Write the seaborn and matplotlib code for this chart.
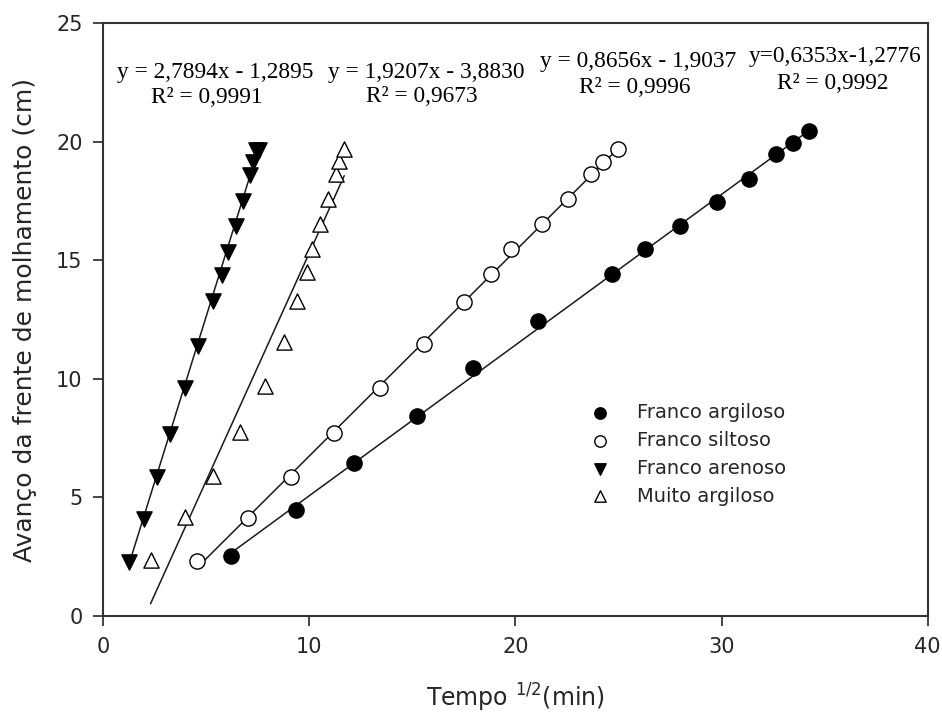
import numpy as np
import pandas as pd
import matplotlib
matplotlib.use("Agg")
import matplotlib.pyplot as plt
import seaborn as sns

# Data: sqrt(time) vs wetting front advance
fa_x = [6.18, 9.34, 12.15, 15.23, 17.94, 21.1, 24.67, 26.29, 27.99, 29.78, 31.35, 32.65, 33.48, 34.24]
fa_y = [2.52, 4.46, 6.46, 8.45, 10.45, 12.46, 14.43, 15.49, 16.47, 17.46, 18.44, 19.47, 19.96, 20.45]

fs_x = [4.53, 7.04, 9.13, 11.21, 13.45, 15.54, 17.5, 18.83, 19.8, 21.3, 22.56, 23.67, 24.27, 24.99]
fs_y = [2.33, 4.12, 5.88, 7.72, 9.61, 11.48, 13.26, 14.43, 15.49, 16.54, 17.57, 18.65, 19.14, 19.68]

far_x = [1.23, 1.96, 2.58, 3.23, 3.94, 4.59, 5.34, 5.74, 6.05, 6.42, 6.8, 7.12, 7.28, 7.4, 7.55]
far_y = [2.26, 4.09, 5.85, 7.68, 9.61, 11.4, 13.3, 14.4, 15.35, 16.47, 17.52, 18.6, 19.14, 19.65, 19.65]

ma_x = [2.29, 3.94, 5.34, 6.63, 7.83, 8.77, 9.42, 9.88, 10.15, 10.53, 10.88, 11.29, 11.45, 11.69]
ma_y = [2.38, 4.16, 5.92, 7.78, 9.69, 11.55, 13.3, 14.5, 15.49, 16.54, 17.6, 18.65, 19.21, 19.7]

names = ["Franco argiloso", "Franco siltoso", "Franco arenoso", "Muito argiloso"]
slopes = [0.6353, 0.8656, 2.7894, 1.9207]
intercepts = [-1.2776, -1.9037, -1.2895, -3.8830]
eq_text = ["y=0,6353x-1,2776", "y = 0,8656x - 1,9037", "y = 2,7894x - 1,2895", "y = 1,9207x - 3,8830"]
r2_text = ["R² = 0,9992", "R² = 0,9996", "R² = 0,9991", "R² = 0,9673"]

xs = [fa_x, fs_x, far_x, ma_x]
ys = [fa_y, fs_y, far_y, ma_y]

# styling per series
markers = ["o", "o", "v", "^"]
faces = ["black", "white", "black", "white"]
# label placement (data coords): equation line and R² line
eq_pos = [(35.5, 23.6), (25.95, 23.4), (5.43, 22.93), (15.66, 22.93)]
r2_pos = [(35.4, 22.45), (25.8, 22.28), (5.02, 21.87), (15.47, 21.9)]

sns.set_style("ticks")
plt.rcParams["font.family"] = ["DejaVu Sans"]

fig = plt.figure(figsize=(9.42, 7.17), dpi=100)
ax = fig.add_axes([0.1097, 0.1409, 0.8750, 0.8266])

for i in range(4):
    df = pd.DataFrame({"x": xs[i], "y": ys[i]})
    # fitted line drawn over the data range
    xl = np.array([min(xs[i]), max(xs[i])])
    line_df = pd.DataFrame({"x": xl, "y": slopes[i] * xl + intercepts[i]})
    sns.lineplot(data=line_df, x="x", y="y", ax=ax, color="#1a1a1a", lw=1.1, zorder=2)
    sns.scatterplot(data=df, x="x", y="y", ax=ax, marker=markers[i], s=120,
                    facecolor=faces[i], edgecolor="black", linewidth=1.0,
                    label=names[i], zorder=3)

for i in range(4):
    ax.text(eq_pos[i][0], eq_pos[i][1], eq_text[i], ha="center", va="center",
            fontsize=16.8, family="Liberation Serif", color="black")
    ax.text(r2_pos[i][0], r2_pos[i][1], r2_text[i], ha="center", va="center",
            fontsize=16.8, family="Liberation Serif", color="black")

ax.set_xlim(0, 40)
ax.set_ylim(0, 25)
ax.set_xticks([0, 10, 20, 30, 40])
ax.set_yticks([0, 5, 10, 15, 20, 25])
ax.tick_params(direction="out", length=7, width=1.2, labelsize=15, pad=8)
for sp in ax.spines.values():
    sp.set_linewidth(1.5)
    sp.set_color("#333333")

ax.set_xlabel("Tempo $^{1/2}$(min)", fontsize=17, labelpad=18)
ax.set_ylabel("Avanço da frente de molhamento (cm)", fontsize=18, labelpad=14)

leg = ax.legend(loc="upper left", bbox_to_anchor=(0.57, 0.372), frameon=False,
                fontsize=14, markerscale=0.75, handletextpad=0.9,
                labelspacing=0.45, borderaxespad=0)

fig.savefig("out.png", dpi=100, facecolor="white")
